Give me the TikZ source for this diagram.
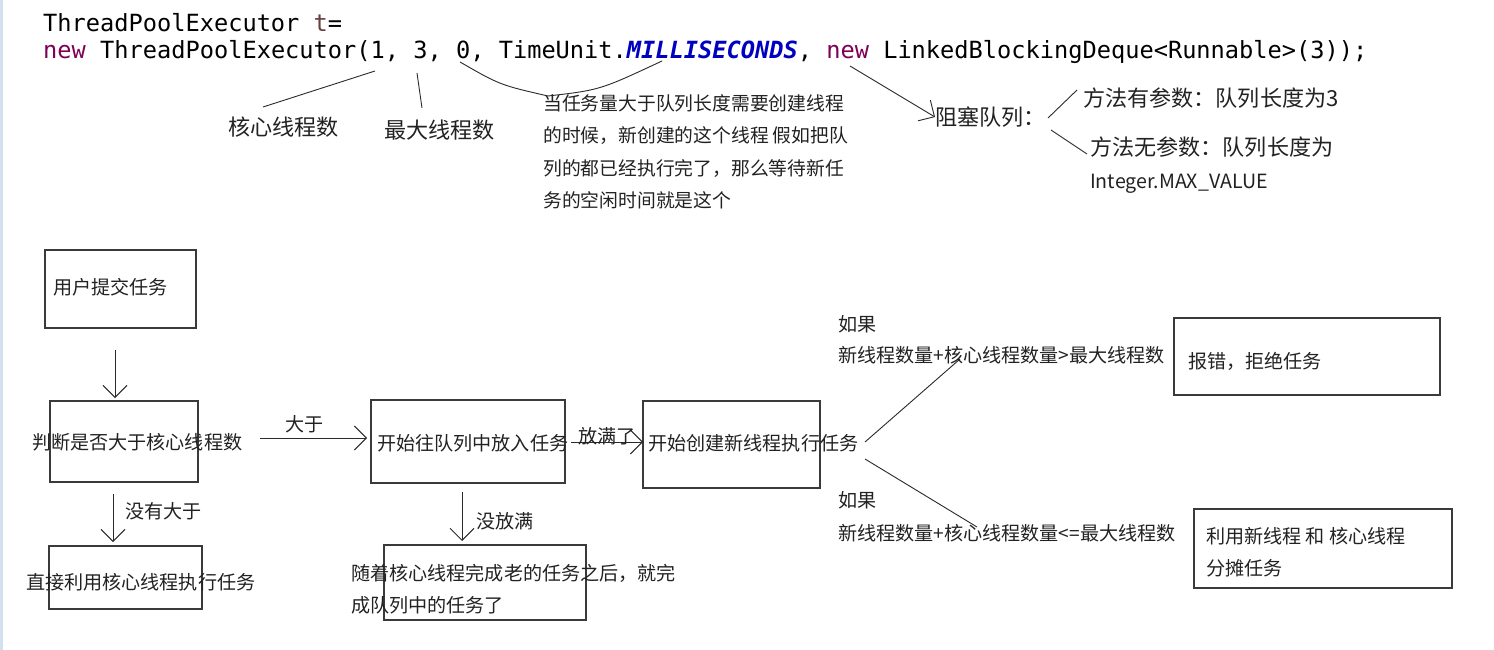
\documentclass[tikz,border=0pt]{standalone}
\usepackage{fontspec}
\setmainfont{Noto Sans CJK SC}
\newfontfamily\codefont{DejaVu Sans Mono}
\usetikzlibrary{arrows.meta}
\definecolor{kw}{HTML}{7F0055}
\definecolor{lv}{HTML}{6A3E3E}
\definecolor{cst}{HTML}{0000C0}
\definecolor{ln}{HTML}{2A2A2A}
\definecolor{bx}{HTML}{3A3A3A}
\definecolor{txt}{HTML}{222222}
\definecolor{edge}{HTML}{D3E1EE}
\tikzset{
  codetxt/.style={anchor=west,inner sep=0pt,font=\codefont\fontsize{23.65}{26}\selectfont,text=black},
  bigtxt/.style={anchor=west,inner sep=0pt,font=\fontsize{22.1}{26}\selectfont,text=txt},
  smalltxt/.style={anchor=west,inner sep=0pt,font=\fontsize{18.8}{32.5}\selectfont,text=txt,align=left},
  flowbox/.style={draw=bx,line width=1.3pt,inner sep=0pt},
  flowtxt/.style={anchor=west,inner sep=0pt,font=\fontsize{19.1}{32}\selectfont,text=txt,align=left},
  conn/.style={draw=ln,line width=0.9pt},
  arr/.style={conn,-{Straight Barb[length=12pt,width=24pt,line width=0.9pt]}},
}
\begin{document}
\begin{tikzpicture}[x=1pt,y=-1pt]
\useasboundingbox (0,0) rectangle (1494,650);
\fill[white] (0,0) rectangle (1494,650);
\fill[edge] (0,0) rectangle (2.5,650);
% code
\node[codetxt] (c1) at (43,23) {ThreadPoolExecutor \textcolor{lv}{t}=};
\node[codetxt] (c2) at (43,52) {\textcolor{kw}{new} ThreadPoolExecutor(1, 3, 0, TimeUnit.\textcolor{cst}{\itshape\bfseries MILLISECONDS}, \textcolor{kw}{new} LinkedBlockingDeque<Runnable>(3));};
% annotations
\coordinate (p1) at (375,71);
\coordinate (p3) at (417,73);
\coordinate (p0a) at (460,62);
\coordinate (p0b) at (662,61);
\coordinate (pnew) at (850,66);
\node[bigtxt] (core) at (228,127) {核心线程数};
\node[bigtxt] (max) at (384,130) {最大线程数};
\draw[conn] (p1) -- (263,107);
\draw[conn] (p3) -- (422,108);
\coordinate (vb) at (548,96);
\draw[conn] (p0a) .. controls (500,85) .. (vb) .. controls (600,90) .. (p0b);
\node[smalltxt] (keep) at (543,152) {当任务量大于队列长度需要创建线程\\的时候，新创建的这个线程 假如把队\\列的都已经执行完了，那么等待新任\\务的空闲时间就是这个};
\node[bigtxt] (queue) at (935,117) {阻塞队列：};
\draw[arr] (pnew) -- (queue.west);
\node[bigtxt] (qa) at (1083,98) {方法有参数：队列长度为3};
\node[bigtxt] (qb) at (1090,147) {方法无参数：队列长度为};
\node[anchor=west,inner sep=0pt,font=\fontsize{19.6}{20}\selectfont,text=txt] (qc) at (1090,184) {Integer.MAX\_VALUE};
\draw[conn] (1048,118) -- (1077,90);
\draw[conn] (1051,130) -- (1087,154);
% flowchart boxes
\draw[flowbox] (45,250) rectangle (196,328);
\node[flowtxt] (b1) at (53,287) {用户提交任务};
\draw[flowbox] (50,401) rectangle (198,482);
\node[flowtxt] (b2) at (32,442) {判断是否大于核心线程数};
\draw[flowbox] (371,400) rectangle (565,483);
\node[flowtxt] (b3) at (377,443) {开始往队列中放入任务};
\draw[flowbox] (643,401) rectangle (820,488);
\node[flowtxt] (b4) at (648,443) {开始创建新线程执行任务};
\draw[flowbox] (49,546) rectangle (202,609);
\node[flowtxt] (b5) at (26,582) {直接利用核心线程执行任务};
\draw[flowbox] (384,545) rectangle (586,620);
\node[flowtxt] (b6) at (351,589) {随着核心线程完成老的任务之后，就完\\成队列中的任务了};
\draw[flowbox] (1174,318) rectangle (1440,395);
\node[flowtxt] (b7) at (1188,361) {报错，拒绝任务};
\draw[flowbox] (1194,509) rectangle (1452,588);
\node[flowtxt] (b8) at (1206,552) {利用新线程 和 核心线程\\分摊任务};
% flow connectors
\coordinate (a1s) at (115,350); \coordinate (a1e) at (115,398);
\draw[arr] (a1s) -- (a1e);
\coordinate (a2s) at (260,438); \coordinate (a2e) at (367,438);
\draw[arr] (a2s) -- (a2e);
\node[flowtxt] (l2) at (285,424) {大于};
\coordinate (a3s) at (571,442); \coordinate (a3e) at (643,442);
\draw[arr] (a3s) -- (a3e);
\node[flowtxt] (l3) at (578,436) {放满了};
\coordinate (a4s) at (113,494); \coordinate (a4e) at (113,542);
\draw[arr] (a4s) -- (a4e);
\node[flowtxt] (l4) at (125,511) {没有大于};
\coordinate (a5s) at (462,492); \coordinate (a5e) at (462,541);
\draw[arr] (a5s) -- (a5e);
\node[flowtxt] (l5) at (476,521) {没放满};
\coordinate (d1s) at (865,442); \coordinate (d1e) at (960,359);
\draw[conn] (d1s) -- (d1e);
\coordinate (d2s) at (865,459); \coordinate (d2e) at (977,527);
\draw[conn] (d2s) -- (d2e);
\node[flowtxt] (c1a) at (838,324) {如果};
\node[flowtxt] (c1b) at (838,355) {新线程数量+核心线程数量>最大线程数};
\node[flowtxt] (c2a) at (838,500) {如果};
\node[flowtxt] (c2b) at (838,533) {新线程数量+核心线程数量<=最大线程数};
\end{tikzpicture}
\end{document}
